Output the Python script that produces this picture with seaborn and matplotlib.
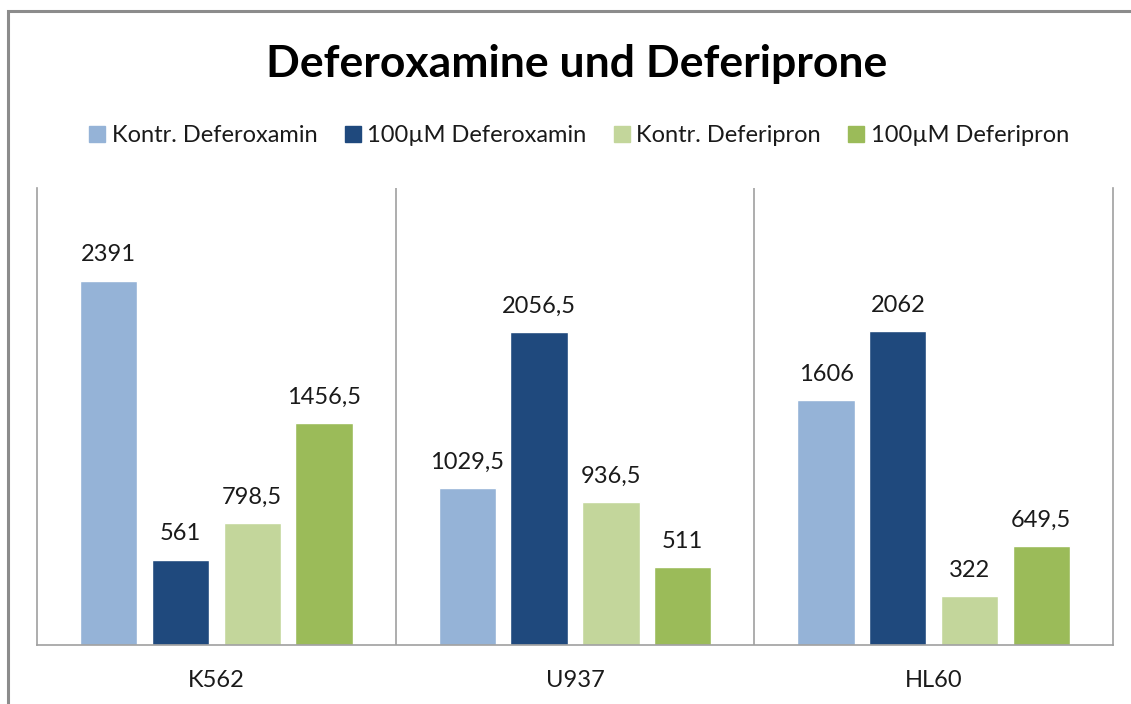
import matplotlib
matplotlib.use("Agg")
import matplotlib.pyplot as plt
import matplotlib.patches as mpatches
import pandas as pd
import seaborn as sns

cells = ["K562", "U937", "HL60"]
series = ["Kontr. Deferoxamin", "100µM Deferoxamin", "Kontr. Deferipron", "100µM Deferipron"]
kontr_dfo = [2391, 1029.5, 1606]
dfo_100 = [561, 2056.5, 2062]
kontr_dfp = [798.5, 936.5, 322]
dfp_100 = [1456.5, 511, 649.5]
colors = ["#95B3D7", "#1F497D", "#C3D69B", "#9BBB59"]

rows = []
for name, vals in zip(series, [kontr_dfo, dfo_100, kontr_dfp, dfp_100]):
    for c, v in zip(cells, vals):
        rows.append({"cell": c, "series": name, "value": v})
df = pd.DataFrame(rows)

sns.set_style("white")
plt.rcParams["font.family"] = ["Lato", "DejaVu Sans"]

fig = plt.figure(figsize=(11.31, 7.04), dpi=100)
ax = fig.add_axes([37 / 1131, 1 - 645 / 704, (1113 - 37) / 1131, (645 - 188) / 704])

sns.barplot(data=df, x="cell", y="value", hue="series", order=cells, hue_order=series,
            palette=colors, width=0.8, gap=0.2, saturation=1, errorbar=None, ax=ax,
            legend=False)

def fmt(v):
    s = f"{v:g}"
    return s.replace(".", ",")

for cont in ax.containers:
    ax.bar_label(cont, labels=[fmt(b.get_height()) for b in cont], padding=11,
                 fontsize=17, color="#1a1a1a")

ax.set_xlim(-0.5, 2.5)
ax.set_ylim(0, 3000)
ax.set_yticks([])
ax.set_xlabel("")
ax.set_ylabel("")
ax.tick_params(axis="x", length=0, pad=18, labelsize=17, labelcolor="#1a1a1a")
for s in ["left", "right", "bottom"]:
    ax.spines[s].set_color("#a0a0a0")
    ax.spines[s].set_linewidth(1.2)
ax.spines["top"].set_visible(False)
for xv in [0.5, 1.5]:
    ax.axvline(xv, color="#a0a0a0", lw=1.2)

fig.text(0.51, 1 - 64 / 704, "Deferoxamine und Deferiprone", ha="center", va="center",
         fontsize=32, fontweight="bold", color="black")

handles = [mpatches.Patch(color=c, label=s) for c, s in zip(colors, series)]
fig.legend(handles=handles, loc="center", bbox_to_anchor=(0.512, 1 - 136 / 704), ncol=4,
           frameon=False, fontsize=17, handlelength=0.68, handleheight=0.68,
           handletextpad=0.28, columnspacing=1.15, labelcolor="#1a1a1a")

# outer chart border
fig.patches.append(mpatches.Rectangle((8 / 1131, -0.1), 1.2, 1 - 11 / 704 + 0.1,
                                      transform=fig.transFigure, fill=False,
                                      edgecolor="#8c8c8c", lw=2.2, figure=fig))

fig.savefig("out.png", dpi=100, facecolor="white")
